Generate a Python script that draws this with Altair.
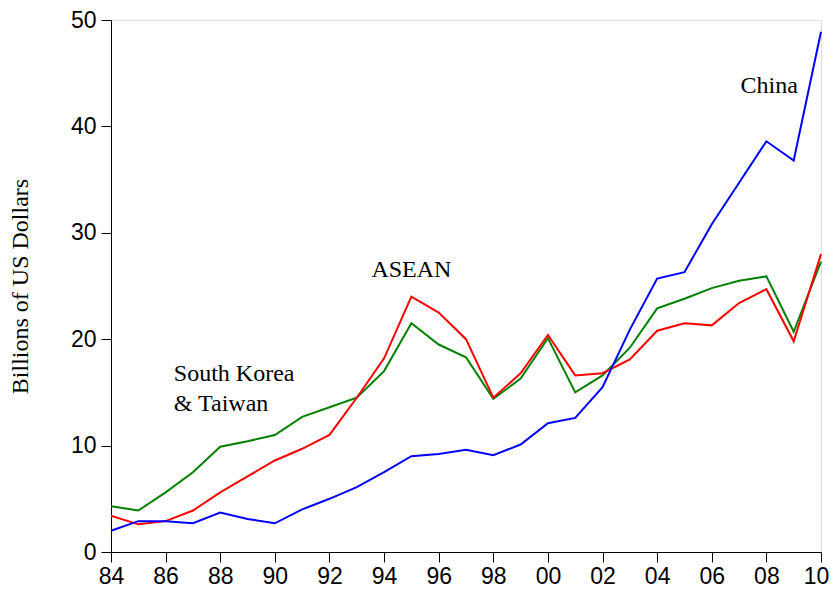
import altair as alt
import pandas as pd

years = list(range(1984, 2011))
china = [2.0, 2.9, 2.9, 2.7, 3.7, 3.1, 2.7, 4.0, 5.0, 6.1, 7.5, 9.0, 9.2, 9.6, 9.1,
         10.1, 12.1, 12.6, 15.5, 20.9, 25.7, 26.3, 30.8, 34.7, 38.6, 36.8, 48.9]
asean = [3.4, 2.6, 2.9, 3.9, 5.6, 7.1, 8.6, 9.7, 11.0, 14.5, 18.2, 24.0, 22.5, 20.0, 14.5,
         16.8, 20.4, 16.6, 16.8, 18.1, 20.8, 21.5, 21.3, 23.4, 24.7, 19.8, 28.0]
korea_taiwan = [4.3, 3.9, 5.6, 7.5, 9.9, 10.4, 11.0, 12.7, 13.6, 14.5, 17.0, 21.5, 19.5, 18.3, 14.4,
                16.3, 20.1, 15.0, 16.6, 19.2, 22.9, 23.8, 24.8, 25.5, 25.9, 20.7, 27.3]

series_names = ["South Korea & Taiwan", "ASEAN", "China"]
series_colors = ["#008000", "#FF0000", "#0000FF"]

ann_text = ["China", "ASEAN", "South Korea", "& Taiwan"]
ann_year = [2008.1, 1995.0, 1986.3, 1986.3]
ann_value = [43.8, 26.5, 16.7, 13.9]
ann_align = ["center", "center", "left", "left"]

rows = []
for name, vals in zip(series_names, [korea_taiwan, asean, china]):
    for yr, v in zip(years, vals):
        rows.append({"year": yr, "value": v, "series": name})
df = pd.DataFrame(rows)
ann = pd.DataFrame({"text": ann_text, "year": ann_year, "value": ann_value, "align": ann_align})

xscale = alt.Scale(domain=[1984, 2010], nice=False, zero=False)
yscale = alt.Scale(domain=[0, 50], nice=False)

xaxis = alt.Axis(
    values=years,
    labelExpr="datum.value % 2 == 0 ? substring(toString(datum.value), 2, 4) : ''",
    title=None, grid=False, tickSize=10, tickColor="black", domainColor="black",
    labelFont="Liberation Sans", labelFontSize=23, labelColor="black",
    labelPadding=3, labelFlush=False, labelOverlap=False, labelBound=False,
    labelOffset={"condition": {"test": "datum.value == 2010", "value": -5}, "value": 0},
)
yaxis = alt.Axis(
    values=[0, 10, 20, 30, 40, 50], title="Billions of US Dollars",
    grid=False, tickSize=10, tickColor="black", domainColor="black",
    labelFont="Liberation Sans", labelFontSize=23, labelColor="black", labelPadding=5,
    labelFlush=False,
    titleFont="Liberation Serif", titleFontSize=24, titleFontWeight="normal",
    titleColor="black", titlePadding=38,
)

lines = alt.Chart(df).mark_line(strokeWidth=2).encode(
    x=alt.X("year:Q", scale=xscale, axis=xaxis),
    y=alt.Y("value:Q", scale=yscale, axis=yaxis),
    color=alt.Color("series:N", scale=alt.Scale(domain=series_names, range=series_colors), legend=None),
    order=alt.Order("year:Q"),
)

text_c = alt.Chart(ann).transform_filter("datum.align == 'center'").mark_text(
    font="Liberation Serif", fontSize=24, color="black", align="center", baseline="middle"
).encode(x=alt.X("year:Q", scale=xscale), y=alt.Y("value:Q", scale=yscale), text="text:N")

text_l = alt.Chart(ann).transform_filter("datum.align == 'left'").mark_text(
    font="Liberation Serif", fontSize=24, color="black", align="left", baseline="middle"
).encode(x=alt.X("year:Q", scale=xscale), y=alt.Y("value:Q", scale=yscale), text="text:N")

chart = alt.layer(lines, text_c, text_l).properties(
    width=710, height=532,
    autosize=alt.AutoSizeParams(type="none"),
    padding={"left": 103, "top": 12, "right": 9, "bottom": 39},
).configure_view(stroke="black", strokeWidth=1.5).configure(background="white")

chart.save("out.html", embed_options={"renderer": "svg", "actions": False})
